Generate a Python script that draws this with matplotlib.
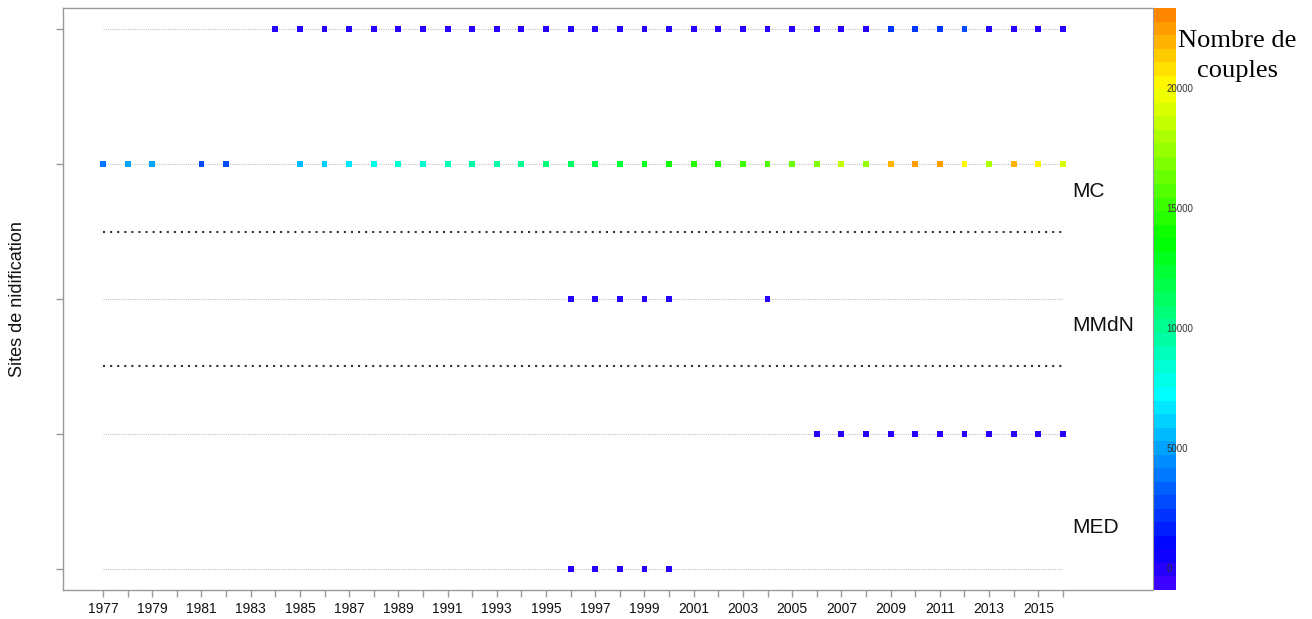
import colorsys
import numpy as np
import matplotlib
matplotlib.use("Agg")
import matplotlib.pyplot as plt
from matplotlib.colors import ListedColormap, BoundaryNorm

# ---- data -------------------------------------------------------------
years_axis = list(range(1977, 2017))
tick_label_years = list(range(1977, 2017, 2))

# Row 5 (top)
row5_years = list(range(1984, 2017))
row5_values = [200, 200, 200, 200, 200, 200, 200, 200, 200, 200, 200,
               200, 200, 200, 200, 200, 200, 200, 200, 200, 200, 200,
               200, 200, 200, 2200, 2200, 2200, 3000, 200, 200, 200, 200]

# Row 4
row4_years = [1977, 1978, 1979, 1981, 1982] + list(range(1985, 2017))
row4_values = [4100, 5000, 5000, 2800, 2800,
               5500, 6350, 6800, 7700, 8300,
               8600, 8900, 9300, 9650, 10100, 10900, 11200, 11700, 12100, 12800,
               14100, 14500, 14900, 15300, 15700, 16100, 16900, 18500, 17300, 21700,
               22400, 22800, 20500, 18000, 22100, 20500, 19100]

# Row 3
row3_years = [1996, 1997, 1998, 1999, 2000, 2004]
row3_values = [150, 150, 150, 150, 150, 150]

# Row 2
row2_years = list(range(2006, 2017))
row2_values = [150] * 11

# Row 1 (bottom)
row1_years = [1996, 1997, 1998, 1999, 2000]
row1_values = [150, 150, 150, 150, 150]

group_labels = ["MC", "MMdN", "MED"]
group_label_y = [3.8, 2.8, 1.305]
separators_y = [3.5, 2.5]

cbar_ticks = [0, 5000, 10000, 15000, 20000]
vmin, vmax = -875, 23375
n_levels = 43

# ---- colour scale: rainbow from violet-blue to orange ------------------
hues = np.linspace(257, 29, n_levels * 2 + 1)[1::2] / 360.0
colors = [colorsys.hsv_to_rgb(h, 1.0, 1.0) for h in hues]
cmap = ListedColormap(colors)
bounds = np.linspace(vmin, vmax, n_levels + 1)
norm = BoundaryNorm(bounds, cmap.N)

# ---- figure -----------------------------------------------------------
W, H = 1312, 619
fig = plt.figure(figsize=(W / 100, H / 100), dpi=100)
plt.rcParams["font.family"] = ["Liberation Sans", "DejaVu Sans"]

def fx(px):
    return px / W

def fy(py):
    return 1 - py / H

ax = fig.add_axes([fx(63), fy(590), fx(1152) - fx(63), fy(8) - fy(590)])
ax.set_xlim(1975.375, 2019.62)
ax.set_ylim(0.844, 5.156)

spine_col = "#9a9a9a"
for s in ax.spines.values():
    s.set_color(spine_col)
    s.set_linewidth(1.0)
ax.spines["right"].set_visible(False)

rows = [(5, row5_years, row5_values), (4, row4_years, row4_values),
        (3, row3_years, row3_values), (2, row2_years, row2_values),
        (1, row1_years, row1_values)]

for yv, yrs, vals in rows:
    ax.plot([years_axis[0], years_axis[-1]], [yv, yv], color="#c4c4c4",
            linestyle=(0, (1, 1)), linewidth=0.8, zorder=1)
    ax.scatter(yrs, [yv] * len(yrs), c=vals, cmap=cmap, norm=norm,
               marker="s", s=18, linewidths=0, zorder=3)

for sy in separators_y:
    ax.plot([years_axis[0], years_axis[-1]], [sy, sy], color="#333333",
            linestyle=(0, (1, 2.4)), linewidth=1.5, zorder=1)

for lab, ly in zip(group_labels, group_label_y):
    ax.text(2016.4, ly, lab, fontsize=15, color="#111111",
            ha="left", va="center")

ax.set_xticks(years_axis)
ax.set_xticklabels([str(y) if y in tick_label_years else "" for y in years_axis],
                   fontsize=10)
ax.set_yticks([1, 2, 3, 4, 5])
ax.set_yticklabels([])
ax.tick_params(axis="both", colors=spine_col, length=5, width=1.0,
               labelcolor="#111111")
ax.set_ylabel("Sites de nidification", fontsize=13, color="#111111",
              labelpad=18)

# ---- colour bar -------------------------------------------------------
cax = fig.add_axes([fx(1153), fy(590), fx(1176) - fx(1153), fy(8) - fy(590)])
cax.imshow(np.arange(n_levels).reshape(-1, 1), cmap=cmap, aspect="auto",
           origin="lower", extent=[0, 1, vmin, vmax], interpolation="nearest")
cax.set_xlim(0, 1)
cax.set_ylim(vmin, vmax)
cax.set_xticks([])
cax.set_yticks([])
for s in cax.spines.values():
    s.set_visible(False)
cax.spines["left"].set_visible(True)
cax.spines["left"].set_color(spine_col)

for t in cbar_ticks:
    cax.text(0.6, t, str(t), fontsize=7, color="#333333",
             ha="left", va="center", clip_on=False)

fig.text(fx(1237), fy(56), "Nombre de\ncouples", fontsize=19,
         family=["Liberation Serif", "DejaVu Serif"], ha="center",
         va="center", linespacing=1.45, color="#000000")

fig.savefig("out.png", dpi=100)
